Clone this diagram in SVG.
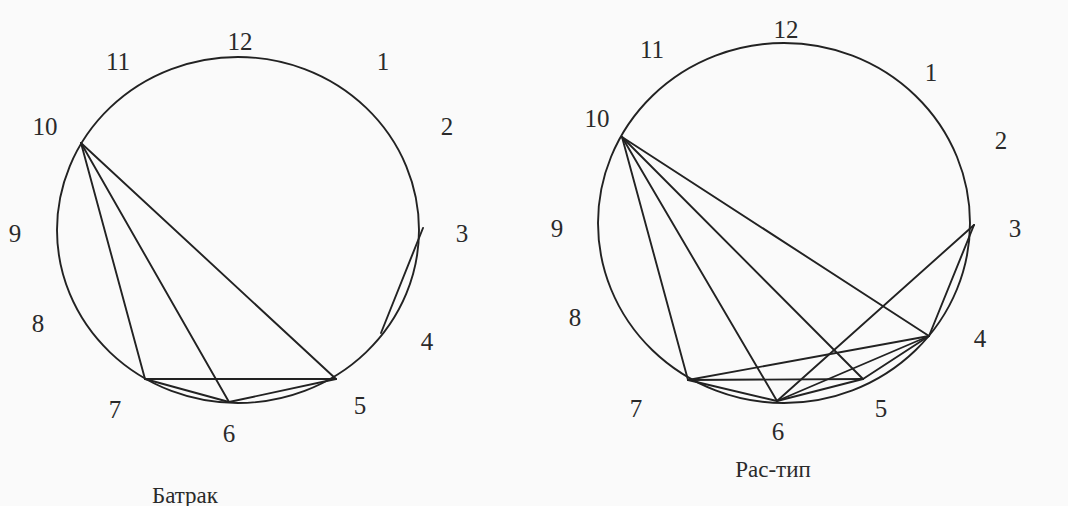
<svg xmlns="http://www.w3.org/2000/svg" width="1068" height="506" viewBox="0 0 1068 506">
<style>
.bg{fill:#fafafa}
.ring{fill:none;stroke:#222;stroke-width:1.9}
.ch{stroke:#222;stroke-width:1.9;fill:none;stroke-linecap:round}
.n{font-family:'Liberation Serif','Times New Roman','DejaVu Serif',serif;font-size:25px;fill:#2a2a2a;text-anchor:middle}
.t{font-family:'Liberation Serif','Times New Roman','DejaVu Serif',serif;font-size:23px;fill:#2a2a2a;text-anchor:middle}
</style>
<rect class="bg" x="0" y="0" width="1068" height="506"/>
<g id="batrak">
<ellipse class="ring" cx="238" cy="230" rx="181" ry="173"/>
<g id="batrak-connectors">
<line class="ch" x1="81" y1="143" x2="145" y2="379"/>
<line class="ch" x1="81" y1="143" x2="229" y2="402"/>
<line class="ch" x1="81" y1="143" x2="336" y2="379"/>
<line class="ch" x1="145" y1="379" x2="336" y2="379"/>
<line class="ch" x1="145" y1="379" x2="229" y2="402"/>
<line class="ch" x1="229" y1="402" x2="336" y2="379"/>
<line class="ch" x1="423" y1="228" x2="381" y2="333"/>
</g>
<g id="batrak-labels">
<text class="n" x="240" y="50">12</text>
<text class="n" x="118" y="70">11</text>
<text class="n" x="383" y="70">1</text>
<text class="n" x="45" y="135">10</text>
<text class="n" x="447" y="135">2</text>
<text class="n" x="15" y="242">9</text>
<text class="n" x="462" y="242">3</text>
<text class="n" x="38" y="332">8</text>
<text class="n" x="427" y="350">4</text>
<text class="n" x="115" y="418">7</text>
<text class="n" x="360" y="414">5</text>
<text class="n" x="229" y="442">6</text>
<text class="t" x="185" y="503">Батрак</text>
</g>
</g>
<g id="rastip">
<ellipse class="ring" cx="784" cy="223" rx="186" ry="180"/>
<g id="rastip-connectors">
<line class="ch" x1="622" y1="137" x2="688" y2="380"/>
<line class="ch" x1="622" y1="137" x2="777" y2="401"/>
<line class="ch" x1="622" y1="137" x2="863" y2="379"/>
<line class="ch" x1="622" y1="137" x2="929" y2="336"/>
<line class="ch" x1="688" y1="380" x2="929" y2="336"/>
<line class="ch" x1="688" y1="380" x2="863" y2="379"/>
<line class="ch" x1="688" y1="380" x2="777" y2="401"/>
<line class="ch" x1="777" y1="401" x2="974" y2="225"/>
<line class="ch" x1="777" y1="401" x2="929" y2="336"/>
<line class="ch" x1="777" y1="401" x2="863" y2="379"/>
<line class="ch" x1="863" y1="379" x2="929" y2="336"/>
<line class="ch" x1="974" y1="225" x2="929" y2="336"/>
</g>
<g id="rastip-labels">
<text class="n" x="786" y="38">12</text>
<text class="n" x="652" y="58">11</text>
<text class="n" x="931" y="81">1</text>
<text class="n" x="597" y="127">10</text>
<text class="n" x="1001" y="149">2</text>
<text class="n" x="557" y="237">9</text>
<text class="n" x="1015" y="237">3</text>
<text class="n" x="575" y="326">8</text>
<text class="n" x="980" y="347">4</text>
<text class="n" x="636" y="417">7</text>
<text class="n" x="881" y="417">5</text>
<text class="n" x="778" y="440">6</text>
<text class="t" x="773" y="477">Рас-тип</text>
</g>
</g>
</svg>
